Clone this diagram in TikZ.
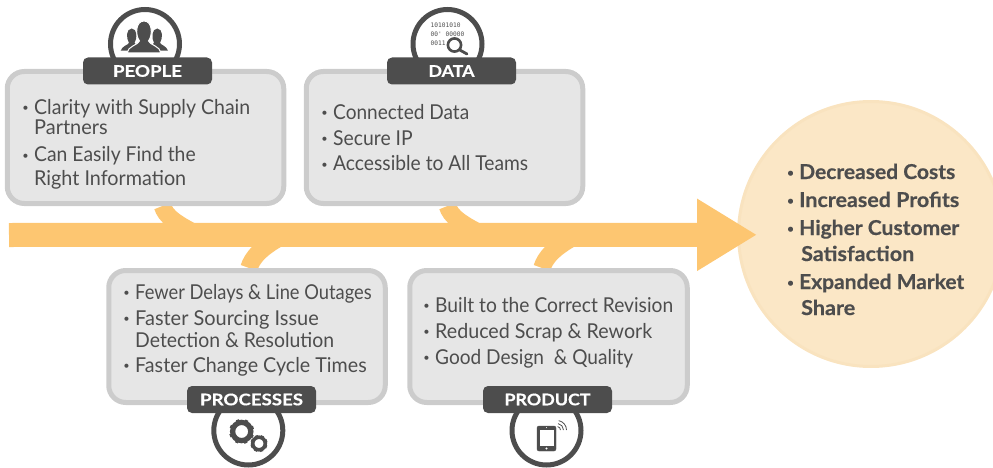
\documentclass[tikz,border=0pt]{standalone}
\usepackage{fontspec}
\usepackage{graphicx}
\setmainfont{Lato}
\setmonofont{DejaVu Sans Mono}
\newfontfamily\tagfont[FakeBold=0.5]{Lato Bold}
\newfontfamily\goalfont[FakeBold=0.5]{Lato Bold}
\usetikzlibrary{arrows.meta,calc}
\pgfdeclarelayer{background}
\pgfsetlayers{background,main}
\definecolor{ink}{HTML}{4D4D4D}
\definecolor{panelfill}{HTML}{E6E6E6}
\definecolor{panelline}{HTML}{CCCCCC}
\definecolor{spinecol}{HTML}{FDC671}
\definecolor{goalfill}{HTML}{FBE7C6}
\definecolor{goalline}{HTML}{F9E3BF}
\newcommand{\itm}{\leavevmode\llap{\fontsize{11}{11}\selectfont\raisebox{2.5pt}{•}\hspace{5.5pt}}}
\newcommand{\fitw}[2]{\resizebox{#1pt}{\height}{#2}}
\tikzset{
  panel/.style={draw=panelline,fill=panelfill,line width=5pt,rounded corners=17pt,minimum width=276.5pt,minimum height=132pt,inner sep=0pt},
  tag/.style={fill=ink,rounded corners=5pt,minimum width=129pt,minimum height=27pt,inner sep=0pt,text=white,font=\tagfont\fontsize{16}{16}\selectfont},
  ring/.style={circle,draw=ink,fill=white,line width=5pt,minimum size=69pt,inner sep=0pt},
  line/.style={anchor=base west,inner sep=0pt,text=ink,font=\fontsize{20.5}{20.5}\selectfont},
  goalline/.style={anchor=base west,inner sep=0pt,text=ink,font=\goalfont\fontsize{20.5}{20.5}\selectfont},
  spine/.style={draw=spinecol,line width=24pt,-{Triangle[length=60pt,width=68pt,inset=0pt]}},
  branch/.style={draw=spinecol,line width=17.5pt},
  goalcircle/.style={circle,draw=goalline,fill=goalfill,line width=3pt,minimum size=265pt,inner sep=0pt},
  inkfill/.style={fill=ink,draw=none},
  cutfill/.style={fill=ink,draw=white,line width=1pt},
}
\newcommand{\gear}[4]{% x y outer-r hole-r
  \foreach \a in {0,45,...,315}{
    \fill[ink,rotate around={\a+20:(#1,#2)}] ($(#1,#2)+(-1.6,#3)$) rectangle ($(#1,#2)+(1.6,#3*0.6)$);
  }
  \draw[ink,line width=#3*0.42pt] (#1,#2) circle[radius=#4*1.0pt+#3*0.21pt];
}
\begin{document}
\begin{tikzpicture}[x=1pt,y=-1pt]
\useasboundingbox (0,0) rectangle (993,468);
\clip (0,0) rectangle (993,468);

\node[goalcircle] (goal) at (871,234) {};
\coordinate (tail) at (9,235);
\coordinate (tip) at (757,234.8);
\draw[spine] (tail) -- (tip);

% rings
\node[ring] (ringpeople) at (145,44) {};
\node[ring] (ringdata) at (447.5,44) {};
\node[ring] (ringproc) at (248.3,430.5) {};
\node[ring] (ringprod) at (546.5,430.5) {};

% panels
\node[panel] (people) at (145.5,137.5) {};
\node[panel] (data) at (444.5,137.5) {};
\node[panel] (proc) at (247,336.5) {};
\node[panel,minimum width=277.5pt] (prod) at (548.5,336.5) {};

% tags
\node[tag] (tagpeople) at (147.5,71) {\fitw{69}{PEOPLE}};
\node[tag] (tagdata) at (451.5,71) {\fitw{46}{DATA}};
\node[tag] (tagproc) at (251.5,399.5) {\fitw{103}{PROCESSES}};
\node[tag] (tagprod) at (547.5,399.5) {\fitw{86}{PRODUCT}};

% branches
\coordinate (j1) at (205,238);
\coordinate (j2) at (490,238);
\coordinate (j3) at (290,232);
\coordinate (j4) at (583,232);
\begin{pgfonlayer}{background}
\draw[branch] ([xshift=17pt]people.south) .. controls +(3,10) and (175,224) .. (j1);
\draw[branch] ([xshift=3pt]data.south) .. controls +(3,10) and (460,224) .. (j2);
\draw[branch] ([xshift=2pt]proc.north) .. controls +(3,-10) and (260,247) .. (j3);
\draw[branch] ([xshift=-6.5pt]prod.north) .. controls +(3,-10) and (553,247) .. (j4);
\end{pgfonlayer}

% text: people
\node[line] (p1) at (34,114.5) {\itm\fitw{216}{Clarity with Supply Chain}};
\node[line] (p2) at (34,135) {\fitw{73.5}{Partners}};
\node[line] (p3) at (34,161.5) {\itm\fitw{161.5}{Can Easily Find the}};
\node[line] (p4) at (34,185) {\fitw{152}{Right Information}};
% data
\node[line] (d1) at (333,119.5) {\itm\fitw{136}{Connected Data}};
\node[line] (d2) at (333,145) {\itm\fitw{79.5}{Secure IP}};
\node[line] (d3) at (333,171) {\itm\fitw{195}{Accessible to All Teams}};
% processes
\node[line] (r1) at (135,299) {\itm\fitw{236.5}{Fewer Delays \& Line Outages}};
\node[line] (r2) at (135,325) {\itm\fitw{183.5}{Faster Sourcing Issue}};
\node[line] (r3) at (135,347) {\fitw{199}{Detection \& Resolution}};
\node[line] (r4) at (135,372) {\itm\fitw{231.5}{Faster Change Cycle Times}};
% product
\node[line] (u1) at (435,312) {\itm\fitw{238}{Built to the Correct Revision}};
\node[line] (u2) at (435,338) {\itm\fitw{217}{Reduced Scrap \& Rework}};
\node[line] (u3) at (435,364) {\itm\fitw{198}{Good Design\ \ \& Quality}};
% goal
\node[goalline] (g1) at (799,179) {\itm\fitw{156}{Decreased Costs}};
\node[goalline] (g2) at (799,207) {\itm\fitw{160}{Increased Profits}};
\node[goalline] (g3) at (799,235) {\itm\fitw{160}{Higher Customer}};
\node[goalline] (g4) at (801,261) {\fitw{113}{Satisfaction}};
\node[goalline] (g5) at (799,289) {\itm\fitw{165}{Expanded Market}};
\node[goalline] (g6) at (801,315) {\fitw{54}{Share}};

% people icon
\begin{scope}
\path[inkfill] (120.7,50.7) .. controls (122,46) and (128,45) .. (129,43) .. controls (126,38) and (126,29) .. (131.7,28.5) .. controls (137.5,29) and (137.5,38) .. (134.5,43) .. controls (137,46) and (140,46) .. (142,50.7) -- cycle;
\path[inkfill] (168,50.7) .. controls (166.5,46) and (161,45) .. (160,43) .. controls (163,38) and (163,29) .. (157.3,28.5) .. controls (151.5,29) and (151.5,38) .. (154,43) .. controls (151,46) and (148,46) .. (146,50.7) -- cycle;
\path[cutfill] (127,53) .. controls (128,46) and (138,45) .. (139.5,41) .. controls (135,35) and (135.5,21) .. (144,21) .. controls (152.5,21) and (153,35) .. (148.5,41) .. controls (150,45) and (160,46) .. (161,53) -- cycle;
\end{scope}

% data icon
\node[inner sep=0pt,anchor=base west,text=ink,font=\ttfamily\fontsize{6.2}{6.2}\selectfont] (b1) at (430.5,28) {10101010};
\node[inner sep=0pt,anchor=base west,text=ink,font=\ttfamily\fontsize{6.2}{6.2}\selectfont] (b2) at (430.5,36.5) {00' 00000};
\node[inner sep=0pt,anchor=base west,text=ink,font=\ttfamily\fontsize{6.2}{6.2}\selectfont] (b3) at (430.5,45.5) {0011};
\draw[ink,fill=white,line width=2.6pt] (454.5,45) circle[radius=6.6];
\draw[ink,line width=2.8pt,line cap=round] (459.8,50) -- (467,54);

% gears
\gear{241.7}{431.5}{12.5}{6.5}
\gear{259}{443.5}{8.5}{4.5}

% tablet
\draw[ink,fill=ink,rounded corners=2pt] (537,426) rectangle (556,451);
\fill[white] (539.5,429.5) rectangle (553.5,446);
\fill[white] (546.5,448.5) circle[radius=1.1];
\fill[white] (546.5,427.7) circle[radius=.5];
\foreach \r in {3.5,6.5,9.5}{
  \draw[ink,line width=.8pt] ($(557,430)+(-0:\r)$) arc[start angle=0,end angle=-80,radius=\r,y radius=\r];
}
\end{tikzpicture}
\end{document}
